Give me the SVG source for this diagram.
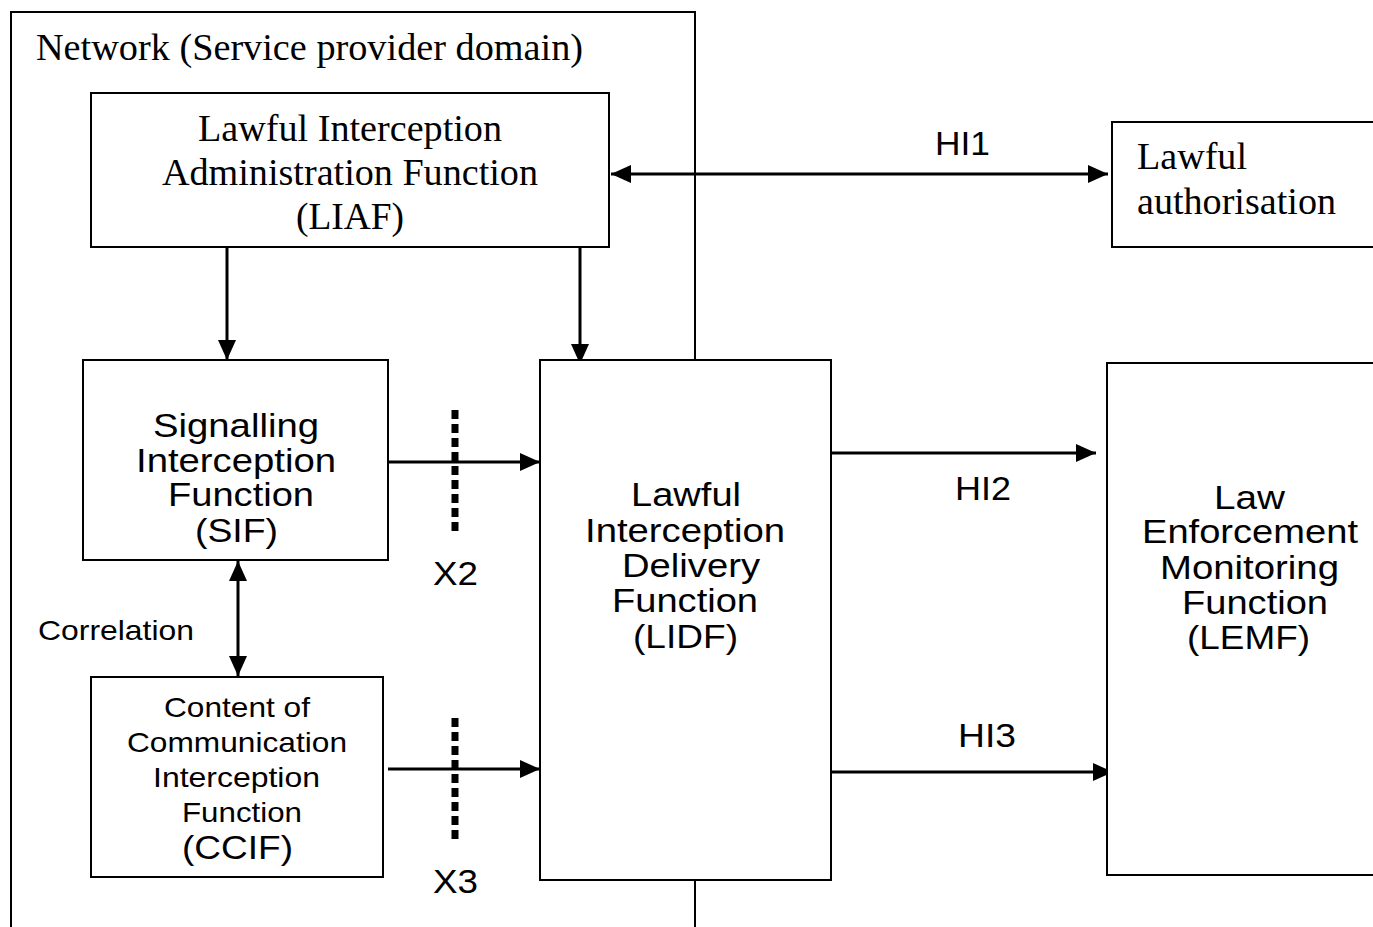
<svg xmlns="http://www.w3.org/2000/svg" width="1373" height="927" viewBox="0 0 1373 927">
<defs>
<marker id="ah" viewBox="0 0 20 18" refX="20" refY="9" markerWidth="20" markerHeight="18" markerUnits="userSpaceOnUse" orient="auto-start-reverse">
<path d="M0,0 L20,9 L0,18 z" fill="#000"/>
</marker>
<style>
.box{fill:#fff;stroke:#000;stroke-width:2}
.serif{font-family:"Liberation Serif","Times New Roman",serif;font-size:38px;fill:#000}
.sans{font-family:"Liberation Sans",Arial,sans-serif;font-size:34px;fill:#000}
.sm{font-size:28px}
.ln{stroke:#000;stroke-width:3;fill:none}
.dot{stroke:#000;stroke-width:7;stroke-dasharray:9 5;fill:none}
</style>
</defs>
<rect width="1373" height="927" fill="#fff"/>
<g id="network">
<rect x="11" y="12" width="684" height="940" fill="none" stroke="#000" stroke-width="2"/>
<text class="serif" x="36" y="60" textLength="547" lengthAdjust="spacingAndGlyphs">Network (Service provider domain)</text>
</g>
<g id="connectors">
<line class="ln" x1="611" y1="174" x2="1108" y2="174" marker-start="url(#ah)" marker-end="url(#ah)"/>
<line class="ln" x1="227" y1="248" x2="227" y2="360" marker-end="url(#ah)"/>
<line class="ln" x1="580" y1="248" x2="580" y2="364" marker-end="url(#ah)"/>
<line class="ln" x1="238" y1="561" x2="238" y2="676" marker-start="url(#ah)" marker-end="url(#ah)"/>
<line class="ln" x1="388" y1="462" x2="540" y2="462" marker-end="url(#ah)"/>
<line class="ln" x1="388" y1="769" x2="540" y2="769" marker-end="url(#ah)"/>
<line class="ln" x1="831" y1="453" x2="1096" y2="453" marker-end="url(#ah)"/>
<line class="ln" x1="831" y1="772" x2="1113" y2="772" marker-end="url(#ah)"/>
<line class="dot" x1="455" y1="410" x2="455" y2="532"/>
<line class="dot" x1="455" y1="718" x2="455" y2="842"/>
<text class="sans" x="935" y="155" textLength="55" lengthAdjust="spacingAndGlyphs">HI1</text>
<text class="sans" x="955" y="500" textLength="56" lengthAdjust="spacingAndGlyphs">HI2</text>
<text class="sans" x="958" y="747" textLength="58" lengthAdjust="spacingAndGlyphs">HI3</text>
<text class="sans" x="433" y="585" textLength="45" lengthAdjust="spacingAndGlyphs">X2</text>
<text class="sans" x="433" y="893" textLength="45" lengthAdjust="spacingAndGlyphs">X3</text>
<text class="sans sm" x="38" y="640" textLength="156" lengthAdjust="spacingAndGlyphs">Correlation</text>
</g>
<g id="liaf">
<rect class="box" x="91" y="93" width="518" height="154"/>
<text class="serif" x="198" y="141" textLength="304" lengthAdjust="spacingAndGlyphs">Lawful Interception</text>
<text class="serif" x="162" y="185" textLength="376" lengthAdjust="spacingAndGlyphs">Administration Function</text>
<text class="serif" x="296" y="229" textLength="108" lengthAdjust="spacingAndGlyphs">(LIAF)</text>
</g>
<g id="lawful-authorisation">
<rect class="box" x="1112" y="122" width="280" height="125"/>
<text class="serif" x="1137" y="169" textLength="110" lengthAdjust="spacingAndGlyphs">Lawful</text>
<text class="serif" x="1137" y="214" textLength="199" lengthAdjust="spacingAndGlyphs">authorisation</text>
</g>
<g id="sif">
<rect class="box" x="83" y="360" width="305" height="200"/>
<text class="sans" x="153" y="437" textLength="166" lengthAdjust="spacingAndGlyphs">Signalling</text>
<text class="sans" x="136" y="472" textLength="200" lengthAdjust="spacingAndGlyphs">Interception</text>
<text class="sans" x="168" y="506" textLength="146" lengthAdjust="spacingAndGlyphs">Function</text>
<text class="sans" x="195" y="542" textLength="83" lengthAdjust="spacingAndGlyphs">(SIF)</text>
</g>
<g id="ccif">
<rect class="box" x="91" y="677" width="292" height="200"/>
<text class="sans sm" x="164" y="717" textLength="146" lengthAdjust="spacingAndGlyphs">Content of</text>
<text class="sans sm" x="127" y="752" textLength="220" lengthAdjust="spacingAndGlyphs">Communication</text>
<text class="sans sm" x="153" y="787" textLength="167" lengthAdjust="spacingAndGlyphs">Interception</text>
<text class="sans sm" x="182" y="822" textLength="120" lengthAdjust="spacingAndGlyphs">Function</text>
<text class="sans" x="182" y="859" textLength="111" lengthAdjust="spacingAndGlyphs">(CCIF)</text>
</g>
<g id="lidf">
<rect class="box" x="540" y="360" width="291" height="520"/>
<text class="sans" x="631" y="506" textLength="110" lengthAdjust="spacingAndGlyphs">Lawful</text>
<text class="sans" x="585" y="542" textLength="200" lengthAdjust="spacingAndGlyphs">Interception</text>
<text class="sans" x="622" y="577" textLength="138" lengthAdjust="spacingAndGlyphs">Delivery</text>
<text class="sans" x="612" y="612" textLength="146" lengthAdjust="spacingAndGlyphs">Function</text>
<text class="sans" x="633" y="648" textLength="105" lengthAdjust="spacingAndGlyphs">(LIDF)</text>
</g>
<g id="lemf">
<rect class="box" x="1107" y="363" width="290" height="512"/>
<text class="sans" x="1214" y="509" textLength="71" lengthAdjust="spacingAndGlyphs">Law</text>
<text class="sans" x="1142" y="543" textLength="216" lengthAdjust="spacingAndGlyphs">Enforcement</text>
<text class="sans" x="1160" y="579" textLength="179" lengthAdjust="spacingAndGlyphs">Monitoring</text>
<text class="sans" x="1182" y="614" textLength="146" lengthAdjust="spacingAndGlyphs">Function</text>
<text class="sans" x="1187" y="649" textLength="123" lengthAdjust="spacingAndGlyphs">(LEMF)</text>
</g>
</svg>
